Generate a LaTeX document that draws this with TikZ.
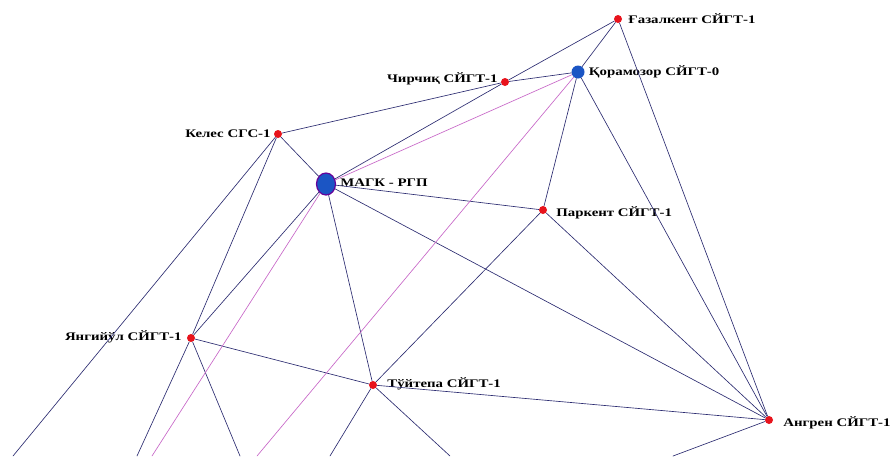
\documentclass[tikz,border=0pt]{standalone}
\usepackage{fontspec}
\usetikzlibrary{shapes.geometric}
\setmainfont{Liberation Serif}
\newfontfamily\lblfont[FakeStretch=1.28]{Liberation Serif}
\definecolor{wire}{HTML}{2B2B70}
\definecolor{gasline}{HTML}{C766C7}
\definecolor{dotred}{HTML}{E8131C}
\definecolor{dotblue}{HTML}{1B55C4}
\begin{document}
\begin{tikzpicture}[x=1pt,y=-1pt,line cap=round]
	\tikzset{
		stn/.style={circle,fill=dotred,inner sep=0pt,minimum size=8pt},
		hubst/.style={circle,fill=dotblue,inner sep=0pt,minimum size=13pt},
		magk/.style={ellipse,fill=dotblue,draw=violet!80!blue,line width=1.2pt,inner sep=0pt,minimum width=19pt,minimum height=22pt},
		lbl/.style={font=\lblfont\bfseries\fontsize{11.6}{12}\selectfont,inner sep=0pt},
		link/.style={draw=wire,line width=0.65pt},
		gas/.style={draw=gasline,line width=0.65pt}
	}
	\useasboundingbox (0,0) rectangle (896,456);
	\clip (0,0) rectangle (896,456);
	% stations
	\node[stn,label={[lbl,label distance=6pt]right:Ғазалкент СЙГТ-1}] (gaz) at (618,19) {};
	\node[hubst,label={[lbl,label distance=4pt]right:Қорамозор СЙГТ-0}] (qor) at (578,72) {};
	\node[stn,label={[lbl,label distance=3pt,yshift=3pt]left:Чирчиқ СЙГТ-1}] (chir) at (505,82) {};
	\node[stn,label={[lbl,label distance=3pt]left:Келес СГС-1}] (kel) at (278,134) {};
	\node[magk,label={[lbl,label distance=4pt,yshift=1pt]right:МАГК - РГП}] (mag) at (326,184) {};
	\node[stn,label={[lbl,label distance=9pt,yshift=-3pt]right:Паркент СЙГТ-1}] (park) at (543,210) {};
	\node[stn,label={[lbl,label distance=5pt,yshift=1pt]left:Янгийўл СЙГТ-1}] (yang) at (191,338) {};
	\node[stn,label={[lbl,label distance=10pt,yshift=1pt]right:Тўйтепа СЙГТ-1}] (tuy) at (373,385) {};
	\node[stn,label={[lbl,label distance=10pt,yshift=-3pt]right:Ангрен СЙГТ-1}] (ang) at (769,420) {};
	% lines leaving the sheet
	\coordinate (kelout) at (13,456);
	\coordinate (yangoutA) at (137,456);
	\coordinate (yangoutB) at (240,456);
	\coordinate (magout) at (152,456);
	\coordinate (qorout) at (257,456);
	\coordinate (tuyoutA) at (330,456);
	\coordinate (tuyoutB) at (450,456);
	\coordinate (angout) at (673,456);
	% links
	\draw[link] (gaz) -- (chir);
	\draw[link] (gaz) -- (qor);
	\draw[link] (gaz) -- (ang);
	\draw[link] (qor) -- (chir);
	\draw[link] (chir) -- (kel);
	\draw[link] (chir) -- (mag);
	\draw[link] (qor) -- (park);
	\draw[link] (qor) -- (ang);
	\draw[link] (kel) -- (mag);
	\draw[link] (kel) -- (yang);
	\draw[link] (kel) -- (kelout);
	\draw[link] (mag) -- (yang);
	\draw[link] (mag) -- (tuy);
	\draw[link] (mag) -- (park);
	\draw[link] (mag) -- (ang);
	\draw[link] (park) -- (tuy);
	\draw[link] (park) -- (ang);
	\draw[link] (yang) -- (tuy);
	\draw[link] (tuy) -- (ang);
	\draw[link] (yang) -- (yangoutA);
	\draw[link] (yang) -- (yangoutB);
	\draw[link] (tuy) -- (tuyoutA);
	\draw[link] (tuy) -- (tuyoutB);
	\draw[link] (ang) -- (angout);
	\draw[gas] (mag) -- (qor);
	\draw[gas] (mag) -- (magout);
	\draw[gas] (qor) -- (qorout);
\end{tikzpicture}
\end{document}
